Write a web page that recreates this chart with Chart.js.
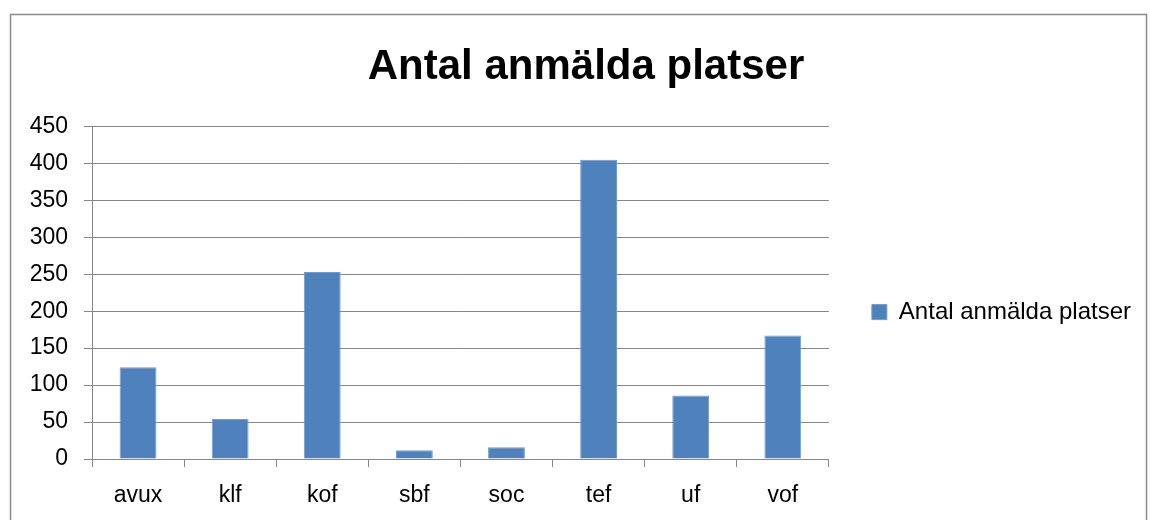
<!DOCTYPE html>
<html>
<head>
<meta charset="utf-8">
<script src="https://cdn.jsdelivr.net/npm/chart.js"></script>
<style>
  html, body { margin: 0; padding: 0; background: #fff; }
  #wrap { position: relative; width: 1150px; height: 520px; }
</style>
</head>
<body>
<div id="wrap"><canvas id="myChart" width="1150" height="520"></canvas></div>
<script>
var categories = ['avux', 'klf', 'kof', 'sbf', 'soc', 'tef', 'uf', 'vof'];
var platser = [124, 54, 253, 12, 16, 405, 86, 167];
var seriesName = 'Antal anmälda platser';
var yMin = 0, yMax = 450, yStep = 50;

var FONT = "'Liberation Sans', Arial, sans-serif";
var gridGrey = '#878787';

// grey frame around the whole chart, like the spreadsheet chart object
var frame = {
    id: 'frame',
    beforeDraw: function (chart) {
        var c = chart.ctx;
        c.save();
        c.strokeStyle = '#8a8a8a';
        c.lineWidth = 1.5;
        c.strokeRect(10.5, 14.5, 1136, 600);
        c.restore();
    },
    // centre the title over the whole frame, not just the space left of the legend padding
    afterLayout: function (chart) {
        var t = chart.titleBlock;
        if (t) { t.left = 0; t.right = 1172; }
    }
};

var ctx = document.getElementById('myChart').getContext('2d');
var chart = new Chart(ctx, {
    type: 'bar',
    data: {
        labels: categories,
        datasets: [{
            label: seriesName,
            data: platser,
            backgroundColor: '#4F81BD',
            borderColor: '#6f9bd0',
            borderWidth: 1,
            categoryPercentage: 1,
            barPercentage: 0.4
        }]
    },
    options: {
        responsive: false,
        animation: false,
        layout: { padding: { top: 0, left: 0, right: 9, bottom: 0 } },
        plugins: {
            title: {
                display: true,
                text: seriesName,
                color: '#000',
                font: { family: FONT, size: 42, weight: 'bold' },
                padding: { top: 42, bottom: 34 }
            },
            legend: {
                position: 'right',
                maxWidth: 400,
                // empty legend title only used to push the entry down
                title: { display: true, text: ' ', font: { size: 1 }, padding: { top: 103, bottom: 0 } },
                labels: {
                    color: '#000',
                    font: { family: FONT, size: 24 },
                    boxWidth: 15,
                    boxHeight: 15,
                    padding: 43
                }
            },
            tooltip: { enabled: false }
        },
        scales: {
            x: {
                grid: {
                    drawOnChartArea: false,
                    drawTicks: true,
                    tickLength: 8,
                    color: gridGrey
                },
                border: { color: gridGrey },
                ticks: {
                    color: '#000',
                    font: { family: FONT, size: 23 },
                    padding: 15
                },
                afterFit: function (scale) { scale.height = 61; }
            },
            y: {
                min: yMin,
                max: yMax,
                grid: { color: gridGrey, tickLength: 8 },
                border: { color: gridGrey },
                ticks: {
                    stepSize: yStep,
                    color: '#000',
                    font: { family: FONT, size: 23 },
                    padding: 16
                },
                afterFit: function (scale) { scale.width = 92; }
            }
        }
    },
    plugins: [frame]
});
</script>
</body>
</html>
